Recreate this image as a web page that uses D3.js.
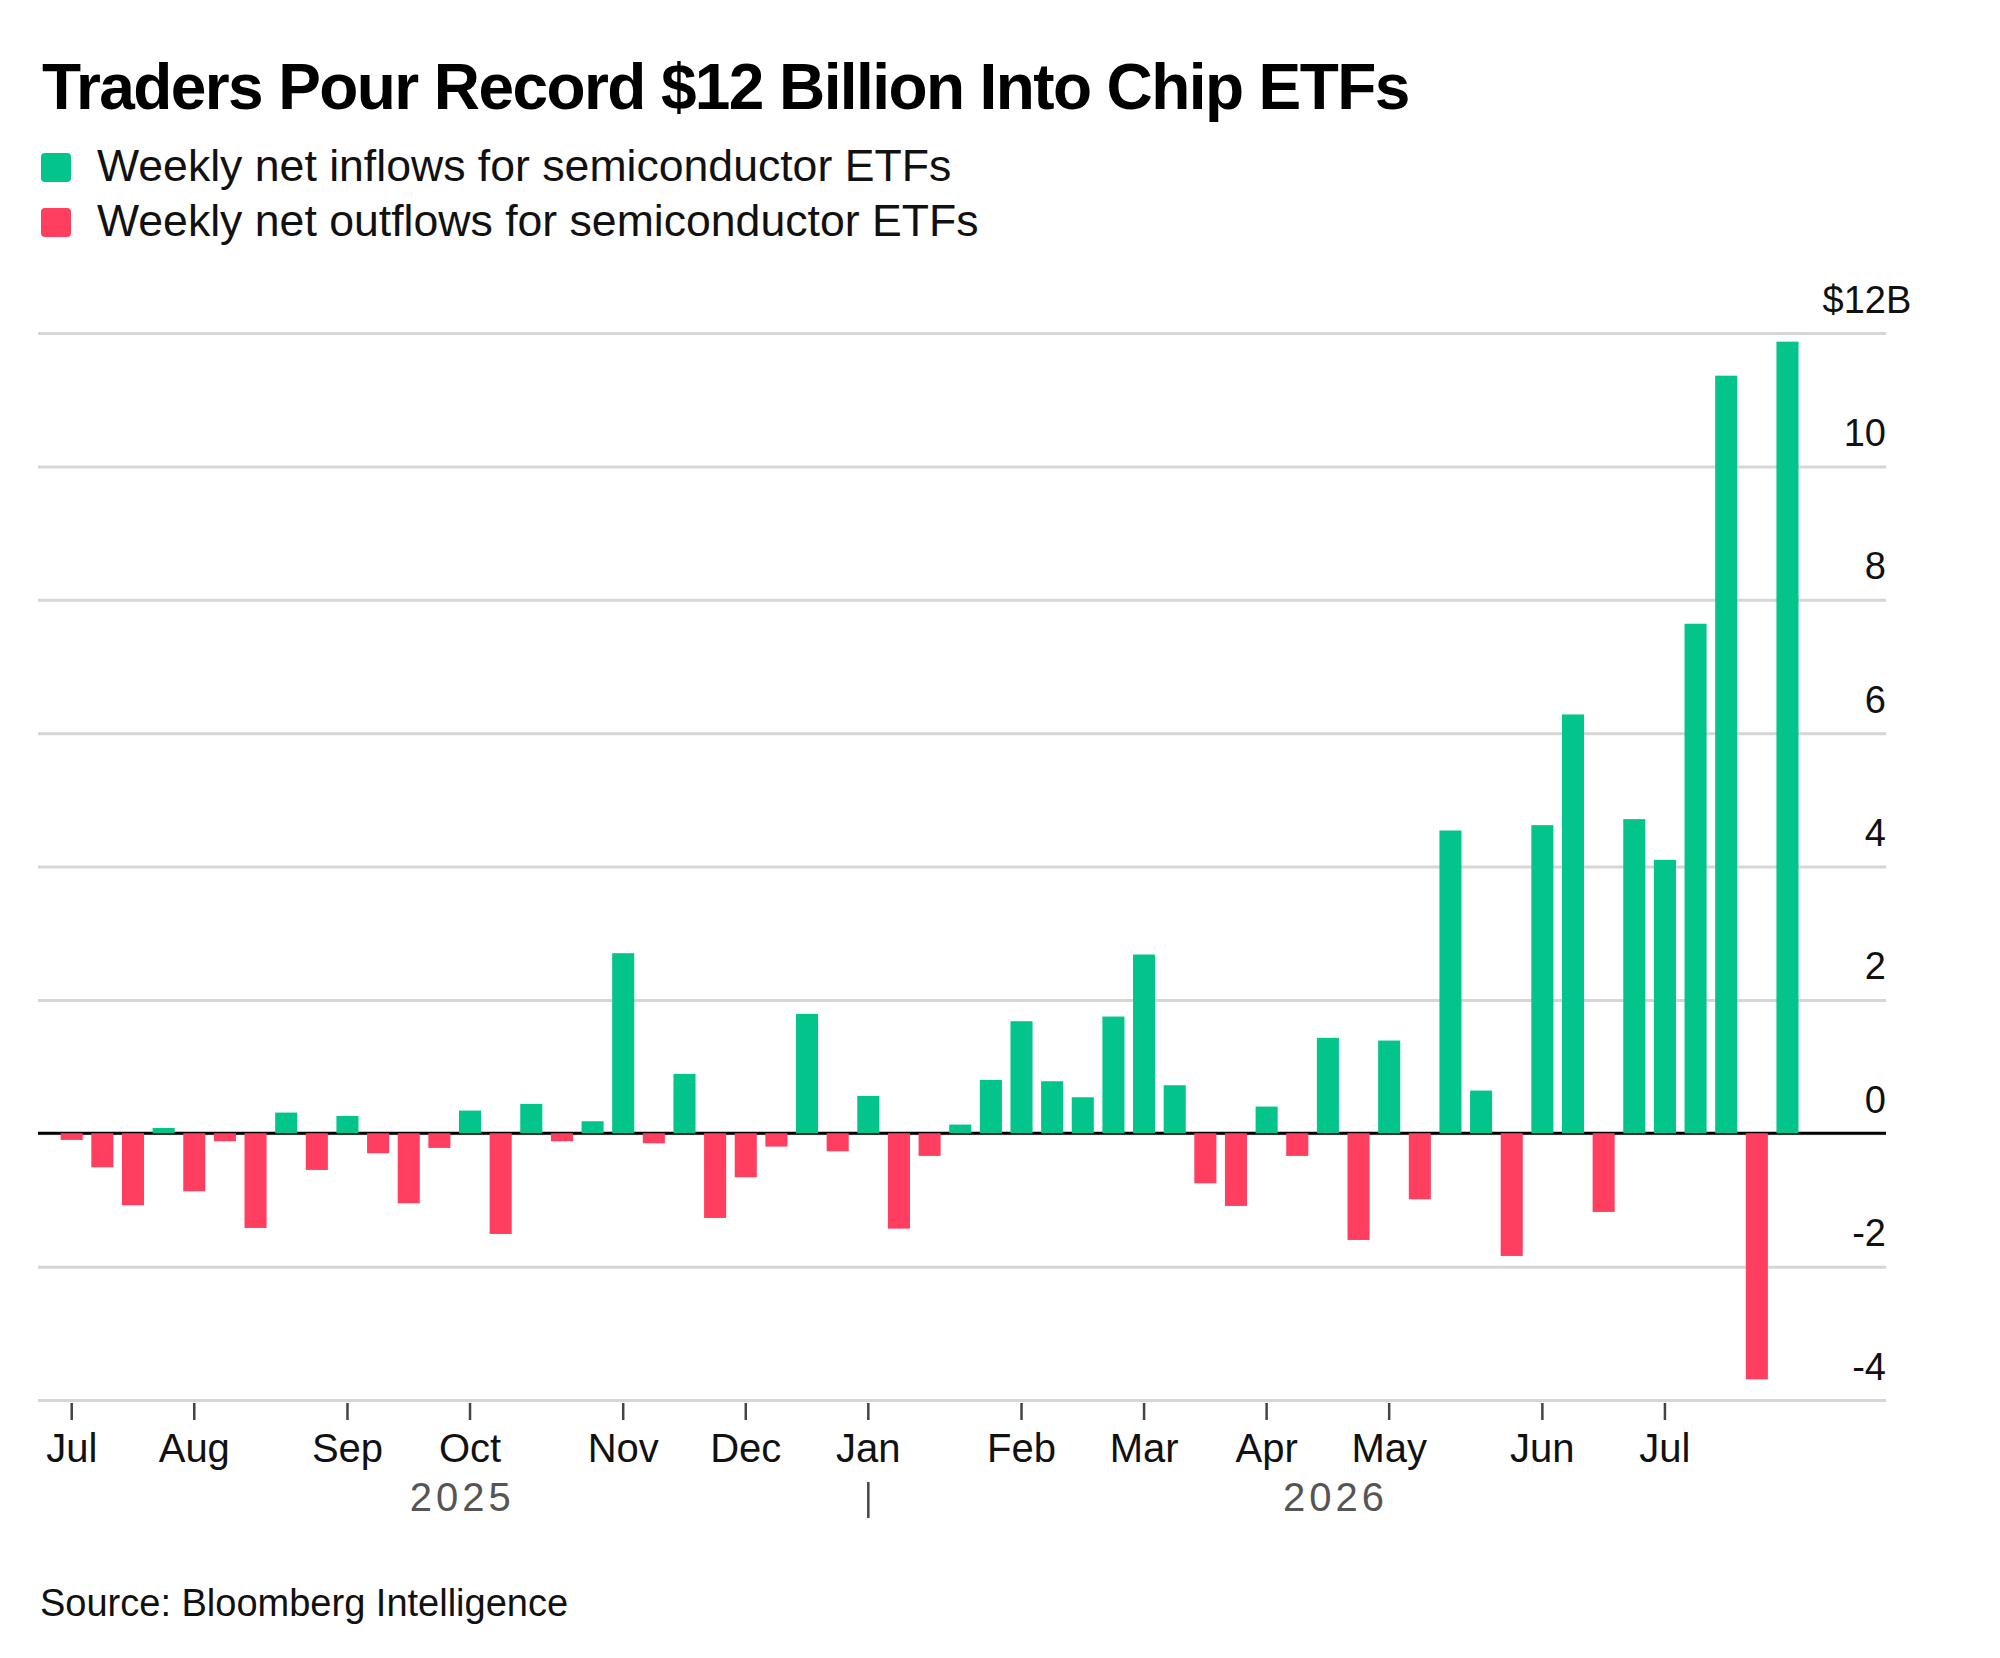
<!DOCTYPE html>
<html>
<head>
<meta charset="utf-8">
<script src="https://cdn.jsdelivr.net/npm/d3@7"></script>
<style>
  body { margin: 0; background: #fff; }
  svg text { font-family: "Liberation Sans", Arial, sans-serif; }
</style>
</head>
<body>
<svg id="chart"></svg>
<script>
// week ending dates (Fridays)
var weeks = [
  "2025-07-04", "2025-07-11", "2025-07-18", "2025-07-25",
  "2025-08-01", "2025-08-08", "2025-08-15", "2025-08-22", "2025-08-29",
  "2025-09-05", "2025-09-12", "2025-09-19", "2025-09-26",
  "2025-10-03", "2025-10-10", "2025-10-17", "2025-10-24", "2025-10-31",
  "2025-11-07", "2025-11-14", "2025-11-21", "2025-11-28",
  "2025-12-05", "2025-12-12", "2025-12-19", "2025-12-26",
  "2026-01-02", "2026-01-09", "2026-01-16", "2026-01-23", "2026-01-30",
  "2026-02-06", "2026-02-13", "2026-02-20", "2026-02-27",
  "2026-03-06", "2026-03-13", "2026-03-20", "2026-03-27",
  "2026-04-03", "2026-04-10", "2026-04-17", "2026-04-24",
  "2026-05-01", "2026-05-08", "2026-05-15", "2026-05-22", "2026-05-29",
  "2026-06-05", "2026-06-12", "2026-06-19", "2026-06-26",
  "2026-07-03", "2026-07-10", "2026-07-17", "2026-07-24", "2026-07-31"
];

// weekly net flows, $ billions
var flows = [
  -0.10, -0.51, -1.08, 0.08,
  -0.87, -0.12, -1.42, 0.31, -0.55,
  0.26, -0.30, -1.05, -0.22,
  0.34, -1.51, 0.44, -0.12, 0.18,
  2.70, -0.15, 0.89, -1.27,
  -0.66, -0.20, 1.79, -0.27,
  0.56, -1.43, -0.34, 0.13, 0.80,
  1.68, 0.78, 0.54, 1.75,
  2.68, 0.72, -0.75, -1.09,
  0.40, -0.34, 1.43, -1.60,
  1.39, -0.99, 4.54, 0.64, -1.84,
  4.62, 6.28, -1.18, 4.71,
  4.10, 7.64, 11.36, -3.69, 11.87
];

var yTicks = [-4, -2, 0, 2, 4, 6, 8, 10, 12];
var years = ["2025", "2026"];
var titleText = "Traders Pour Record $12 Billion Into Chip ETFs";
var legendLabels = ["Weekly net inflows for semiconductor ETFs", "Weekly net outflows for semiconductor ETFs"];
var sourceText = "Source: Bloomberg Intelligence";

var green = "#03c48a",
    red = "#ff3e60";

var width = 2000,
    height = 1658;
var plotLeft = 38, plotRight = 1886, plotTop = 333, plotBottom = 1400;

var parse = d3.timeParse("%Y-%m-%d");
var fmtMonth = d3.timeFormat("%b");

var svg = d3.select("#chart")
    .attr("width", width)
    .attr("height", height);

var x = d3.scaleBand()
    .domain(weeks)
    .range([56.4, 1802.8])
    .paddingInner(0.28)
    .paddingOuter(0.14);

var y = d3.scaleLinear()
    .domain([-4, 12])
    .range([plotBottom, plotTop]);

// title
svg.append("text")
    .attr("x", 42)
    .attr("y", 109)
    .style("font-size", "64px")
    .style("font-weight", "bold")
    .style("letter-spacing", "-1.6px")
    .attr("fill", "#000")
    .text(titleText);

// legend
var legend = svg.selectAll(".legend")
    .data(legendLabels)
    .enter().append("g")
    .attr("class", "legend")
    .attr("transform", function (d, i) { return "translate(0," + (i * 55) + ")"; });

legend.append("rect")
    .attr("x", 41)
    .attr("y", 153)
    .attr("width", 30)
    .attr("height", 29)
    .attr("rx", 4)
    .attr("fill", function (d, i) { return i === 0 ? green : red; });

legend.append("text")
    .attr("x", 97)
    .attr("y", 181)
    .style("font-size", "44.6px")
    .attr("fill", "#111")
    .text(function (d) { return d; });

// y axis with gridlines
var yAxis = d3.axisRight(y)
    .tickValues(yTicks)
    .tickSize(plotRight - plotLeft)
    .tickFormat(function (d) { return d === 12 ? "$12" : String(d); });

var gy = svg.append("g")
    .attr("transform", "translate(" + plotLeft + ",0)")
    .call(yAxis);

gy.select(".domain").remove();
gy.selectAll(".tick line")
    .attr("stroke", "#d6d6d6")
    .attr("stroke-width", 3);
gy.selectAll(".tick text")
    .attr("x", plotRight - plotLeft)
    .attr("dy", -21)
    .attr("text-anchor", "end")
    .attr("fill", "#111")
    .style("font-size", "38px");
gy.selectAll(".tick")
    .filter(function (d) { return d === 12; })
    .append("text")
    .attr("x", plotRight - plotLeft)
    .attr("dy", -21)
    .attr("text-anchor", "start")
    .attr("fill", "#111")
    .style("font-size", "38px")
    .text("B");

// zero line
svg.append("line")
    .attr("x1", plotLeft)
    .attr("x2", plotRight)
    .attr("y1", y(0))
    .attr("y2", y(0))
    .attr("stroke", "#000")
    .attr("stroke-width", 3);

// bars
svg.selectAll(".bar")
    .data(weeks)
    .enter().append("rect")
    .attr("class", "bar")
    .attr("x", function (d) { return x(d); })
    .attr("width", x.bandwidth())
    .attr("y", function (d, i) { return y(Math.max(0, flows[i])); })
    .attr("height", function (d, i) { return Math.abs(y(flows[i]) - y(0)); })
    .attr("fill", function (d, i) { return flows[i] >= 0 ? green : red; });

// x axis: ticks at first week of each month
var monthStarts = weeks.filter(function (w, i) {
    return i === 0 || w.slice(5, 7) !== weeks[i - 1].slice(5, 7);
});

var xAxis = d3.axisBottom(x)
    .tickValues(monthStarts)
    .tickSize(17)
    .tickFormat(function (w) { return fmtMonth(parse(w)); });

var gx = svg.append("g")
    .attr("transform", "translate(0," + (plotBottom + 3) + ")")
    .call(xAxis);

gx.select(".domain").remove();
gx.selectAll(".tick line")
    .attr("stroke", "#444")
    .attr("stroke-width", 2.5);
gx.selectAll(".tick text")
    .attr("y", 59)
    .attr("dy", 0)
    .attr("fill", "#111")
    .style("font-size", "40px");

// year labels
var firstOf2026 = weeks.filter(function (w) { return w.slice(0, 4) === "2026"; })[0];
var yearSplit = x(firstOf2026) + x.bandwidth() / 2;
var xr = x.range();
var yearCenters = [(xr[0] + yearSplit) / 2, (yearSplit + xr[1]) / 2];

svg.selectAll(".year")
    .data(years)
    .enter().append("text")
    .attr("class", "year")
    .attr("x", function (d, i) { return yearCenters[i]; })
    .attr("y", 1511)
    .attr("text-anchor", "middle")
    .attr("fill", "#555")
    .style("font-size", "40px")
    .style("letter-spacing", "4px")
    .text(function (d) { return d; });

svg.append("line")
    .attr("x1", yearSplit)
    .attr("x2", yearSplit)
    .attr("y1", 1482)
    .attr("y2", 1518)
    .attr("stroke", "#444")
    .attr("stroke-width", 2.5);

// source
svg.append("text")
    .attr("x", 40)
    .attr("y", 1616)
    .style("font-size", "38px")
    .attr("fill", "#111")
    .text(sourceText);
</script>
</body>
</html>
